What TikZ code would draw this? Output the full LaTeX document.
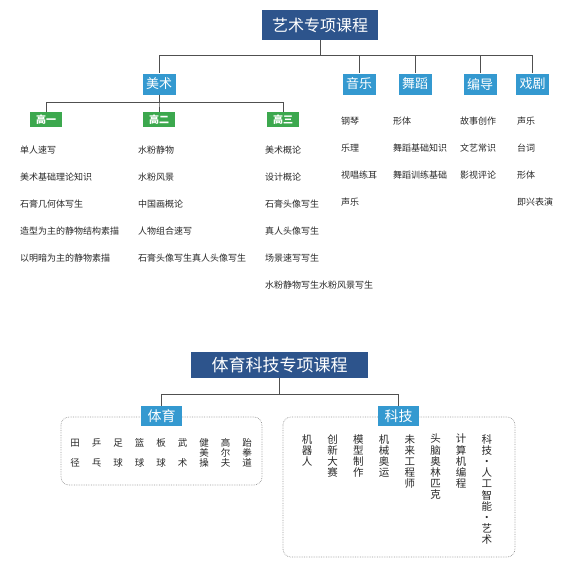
\documentclass[tikz,border=0pt]{standalone}
\usepackage{fontspec}
\setmainfont{Noto Sans CJK SC}
\definecolor{deepblue}{RGB}{45,84,140}
\definecolor{skyblue}{RGB}{52,153,208}
\definecolor{gradegreen}{RGB}{60,168,78}
\definecolor{linkgray}{RGB}{80,80,80}
\definecolor{textgray}{RGB}{40,40,40}
\tikzset{
  rootbox/.style={fill=deepblue, text=white, inner sep=0pt, minimum height=30pt, minimum width=116pt, font=\fontsize{16}{18}\selectfont},
  subjectbox/.style={fill=skyblue, text=white, inner sep=0pt, minimum height=21pt, minimum width=33pt, font=\fontsize{13}{15}\selectfont},
  gradebox/.style={fill=gradegreen, text=white, inner sep=0pt, minimum height=15pt, minimum width=32pt, font=\bfseries\fontsize{10}{12}\selectfont},
  item/.style={anchor=west, inner sep=0pt, text=textgray, font=\fontsize{9}{11}\selectfont},
  link/.style={linkgray, line width=1pt},
  group/.style={gray!80, densely dotted, rounded corners=8pt, line width=0.7pt},
  column/.style={anchor=north, inner sep=0pt, align=center, text=textgray},
}
\begin{document}
\begin{tikzpicture}[x=1pt,y=-1pt]
 \useasboundingbox (0,0) rectangle (571,566);
 % art courses
 \node[rootbox] (art) at (320,25) {艺术专项课程};
 \node[subjectbox] (fine) at (159,84) {美术};
 \node[subjectbox] (music) at (359,84) {音乐};
 \node[subjectbox] (dance) at (415,84) {舞蹈};
 \node[subjectbox] (script) at (480,84) {编导};
 \node[subjectbox] (drama) at (532.5,84) {戏剧};
 \foreach \s in {fine,music,dance,script,drama} \draw[link] (art.south) -- ++(0,15) -| (\s.north);
 \node[gradebox] (g1) at (46,119.5) {高一};
 \node[gradebox] (g2) at (159,119.5) {高二};
 \node[gradebox] (g3) at (283,119.5) {高三};
 \foreach \g in {g1,g2,g3} \draw[link] (fine.south) -- ++(0,7.5) -| (\g.north);
 \foreach \t [count=\i] in {单人速写,美术基础理论知识,石膏几何体写生,造型为主的静物结构素描,以明暗为主的静物素描}
   \node[item] (g1-\i) at (20,123+27*\i) {\t};
 \foreach \t [count=\i] in {水粉静物,水粉风景,中国画概论,人物组合速写,石膏头像写生真人头像写生}
   \node[item] (g2-\i) at (138,123+27*\i) {\t};
 \foreach \t [count=\i] in {美术概论,设计概论,石膏头像写生,真人头像写生,场景速写写生,水粉静物写生水粉风景写生}
   \node[item] (g3-\i) at (265,123+27*\i) {\t};
 \foreach \t [count=\i] in {钢琴,乐理,视唱练耳,声乐}
   \node[item] (music-\i) at (341,94+27*\i) {\t};
 \foreach \t [count=\i] in {形体,舞蹈基础知识,舞蹈训练基础}
   \node[item] (dance-\i) at (393,94+27*\i) {\t};
 \foreach \t [count=\i] in {故事创作,文艺常识,影视评论}
   \node[item] (script-\i) at (460,94+27*\i) {\t};
 \foreach \t [count=\i] in {声乐,台词,形体,即兴表演}
   \node[item] (drama-\i) at (517,94+27*\i) {\t};
 % sport and technology courses
 \draw[group] (61,417) rectangle (262,485);
 \draw[group] (283,417) rectangle (515,557);
 \node[rootbox, minimum width=177pt, minimum height=26pt, font=\fontsize{17}{19}\selectfont] (sci) at (279.5,365) {体育科技专项课程};
 \node[subjectbox, minimum width=41pt, minimum height=20pt, font=\fontsize{14}{16}\selectfont] (sport) at (161.5,416) {体育};
 \node[subjectbox, minimum width=41pt, minimum height=20pt, font=\fontsize{14}{16}\selectfont] (tech) at (398.5,416) {科技};
 \foreach \s in {sport,tech} \draw[link] (sci.south) -- ++(0,16) -| (\s.north);
 \foreach \t [count=\i] in {{田\\[10pt]径},{乒\\[10pt]乓},{足\\[10pt]球},{篮\\[10pt]球},{板\\[10pt]球},{武\\[10pt]术},{健\\美\\操},{高\\尔\\夫},{跆\\拳\\道}}
   \node[column, font=\fontsize{9.5}{10}\selectfont] (sport-\i) at (75+21.5*\i-21.5,438.5) {\t};
 \foreach \t [count=\i] in {{机\\器\\人},{创\\新\\大\\赛},{模\\型\\制\\作},{机\\械\\奥\\运},{未\\来\\工\\程\\师},{头\\脑\\奥\\林\\匹\\克},{计\\算\\机\\编\\程},{科\\技\\·\\人\\工\\智\\能\\·\\艺\\术}}
   \node[column, font=\fontsize{10.5}{11.2}\selectfont] (tech-\i) at (307+25.7*\i-25.7,434) {\t};
\end{tikzpicture}
\end{document}
